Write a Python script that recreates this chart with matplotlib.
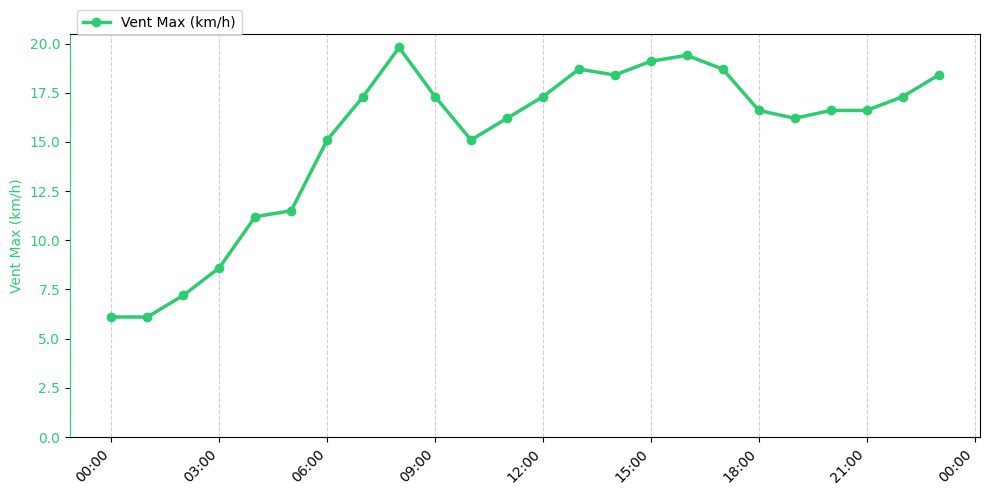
import matplotlib
matplotlib.use("Agg")
import matplotlib.pyplot as plt
import matplotlib.dates as mdates
from datetime import datetime, timedelta

hours = list(range(24))
vent_max = [6.1, 6.1, 7.2, 8.6, 11.2, 11.5, 15.1, 17.3, 19.8, 17.3, 15.1, 16.2,
            17.3, 18.7, 18.4, 19.1, 19.4, 18.7, 16.6, 16.2, 16.6, 16.6, 17.3, 18.4]
label = "Vent Max (km/h)"
color = "#2ecc71"

base = datetime(2024, 1, 1)
times = [base + timedelta(hours=h) for h in hours]

fig = plt.figure(figsize=(9.89, 4.94), dpi=100)
ax = fig.add_axes([70/989, 1-437/494, 910/989, 403/494])
ax.plot(times, vent_max, color=color, linewidth=2.5, marker='o', markersize=6, label=label)
ax.set_ylim(bottom=0)
ax.set_ylabel(label, color=color)
ax.tick_params(axis='y', labelcolor=color)
ax.spines['left'].set_color(color)
ax.xaxis.set_major_locator(mdates.HourLocator(interval=3))
ax.xaxis.set_major_formatter(mdates.DateFormatter('%H:%M'))
plt.setp(ax.get_xticklabels(), rotation=45, ha='right')
ax.grid(axis='x', linestyle='--', alpha=0.6)
ax.legend(loc='upper left', bbox_to_anchor=(0, 1.077))
fig.savefig("out.png", dpi=100)
